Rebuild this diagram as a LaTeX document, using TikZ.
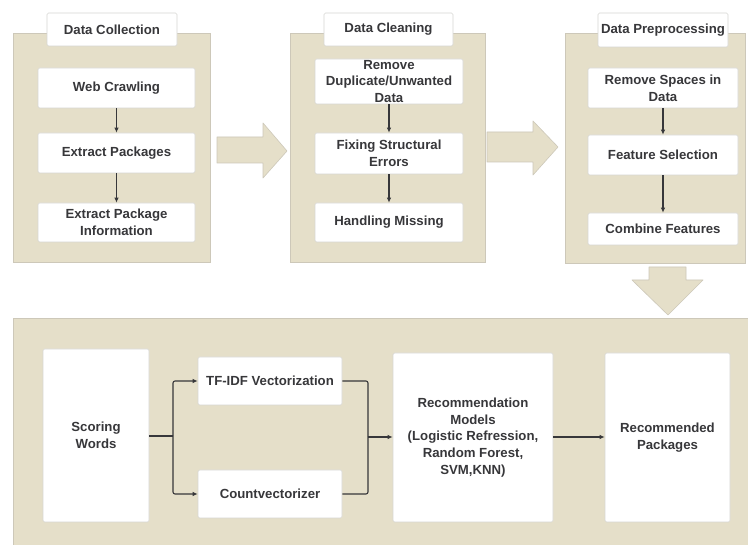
\documentclass[tikz,border=0pt]{standalone}
\usepackage{fontspec}
\setmainfont{Liberation Sans}
\usetikzlibrary{arrows.meta}
\definecolor{beige}{RGB}{229,223,201}
\definecolor{pborder}{RGB}{205,200,185}
\definecolor{bborder}{RGB}{215,215,212}
\definecolor{ink}{RGB}{55,55,58}
\tikzset{
  panel/.style={draw=pborder, fill=beige, line width=0.8pt, inner sep=0pt},
  wbox/.style={draw=bborder, fill=white, rounded corners=1.5pt, line width=0.6pt, inner sep=1pt,
     align=center, text=ink, font=\fontsize{13.2}{16.6}\selectfont\bfseries},
  bigarrow/.style={draw=pborder, fill=beige, line width=0.6pt, line join=round},
  conn/.style={draw=ink, line width=1.1pt, -{Latex[length=5pt,width=4.5pt]}},
  plain/.style={draw=ink, line width=1.1pt}
}
\begin{document}
\begin{tikzpicture}[x=1pt,y=-1pt]
\useasboundingbox (0,0) rectangle (748,545);
\fill[white] (0,0) rectangle (748,545);

% top panels
\node[panel, minimum width=197pt, minimum height=229pt] (p1) at (111.5,147.5) {};
\node[panel, minimum width=195pt, minimum height=229pt] (p2) at (387.5,147.5) {};
\node[panel, minimum width=180pt, minimum height=230pt] (p3) at (655,148) {};

% titles
\node[wbox, minimum width=130pt, minimum height=33pt] (t1) at (112,29.5) {Data Collection};
\node[wbox, minimum width=129pt, minimum height=33pt] (t2) at (388.5,29.5) {Data Cleaning};
\node[wbox, minimum width=130pt, minimum height=34pt] (t3) at (663,30) {Data Preprocessing};

% panel 1
\node[wbox, minimum width=157pt, minimum height=40pt] (web) at (116.5,88) {Web Crawling};
\node[wbox, minimum width=157pt, minimum height=40pt] (ext) at (116.5,153) {Extract Packages};
\node[wbox, minimum width=157pt, minimum height=39pt] (info) at (116.5,222.5) {Extract Package\\Information};
\draw[conn] (web) -- (ext);
\draw[conn] (ext) -- (info);

% panel 2
\node[wbox, minimum width=148pt, minimum height=45pt] (rem) at (389,81.5) {Remove\\Duplicate/Unwanted\\Data};
\node[wbox, minimum width=148pt, minimum height=41pt] (fix) at (389,153.5) {Fixing Structural\\Errors};
\node[wbox, minimum width=148pt, minimum height=39pt] (miss) at (389,222.5) {Handling Missing};
\draw[conn] (rem) -- (fix);
\draw[conn] (fix) -- (miss);

% panel 3
\node[wbox, minimum width=150pt, minimum height=40pt] (spc) at (663,88) {Remove Spaces in\\Data};
\node[wbox, minimum width=150pt, minimum height=40pt] (feat) at (663,155) {Feature Selection};
\node[wbox, minimum width=150pt, minimum height=32pt] (comb) at (663,229) {Combine Features};
\draw[conn] (spc) -- (feat);
\draw[conn] (feat) -- (comb);

% big arrows
\draw[bigarrow] (217,137) -- (263,137) -- (263,123) -- (287,151) -- (263,178) -- (263,163) -- (217,163) -- cycle;
\draw[bigarrow] (487,132) -- (533,132) -- (533,121) -- (558,147) -- (533,175) -- (533,162) -- (487,162) -- cycle;

% bottom panel
\fill[beige] (13,318) rectangle (748,545);
\draw[pborder, line width=0.8pt] (13,545) -- (13,318) -- (748,318);
\draw[bigarrow] (649,267) -- (686,267) -- (686,280) -- (703,280) -- (668,315) -- (632,280) -- (649,280) -- cycle;

\node[wbox, minimum width=106pt, minimum height=173pt] (score) at (96,435.5) {Scoring\\Words};
\node[wbox, minimum width=144pt, minimum height=48pt] (tfidf) at (270,381) {TF-IDF Vectorization};
\node[wbox, minimum width=144pt, minimum height=48pt] (cv) at (270,494) {Countvectorizer};
\node[wbox, minimum width=160pt, minimum height=169pt] (rec) at (473,437.5) {Recommendation\\Models\\(Logistic Refression,\\Random Forest,\\SVM,KNN)};
\node[wbox, minimum width=125pt, minimum height=169pt] (pkg) at (667.5,437.5) {Recommended\\Packages};

\coordinate (split) at (173,436);
\coordinate (merge) at (368,437);
\draw[plain] (score.east |- split) -- (split);
\draw[conn, rounded corners=2pt] (split) |- (tfidf.west);
\draw[conn, rounded corners=2pt] (split) |- (cv.west);
\draw[plain, rounded corners=2pt] (tfidf.east) -| (merge);
\draw[plain, rounded corners=2pt] (cv.east) -| (merge);
\draw[conn] (merge) -- (rec.west |- merge);
\draw[conn] (rec.east |- merge) -- (pkg.west |- merge);
\end{tikzpicture}
\end{document}
